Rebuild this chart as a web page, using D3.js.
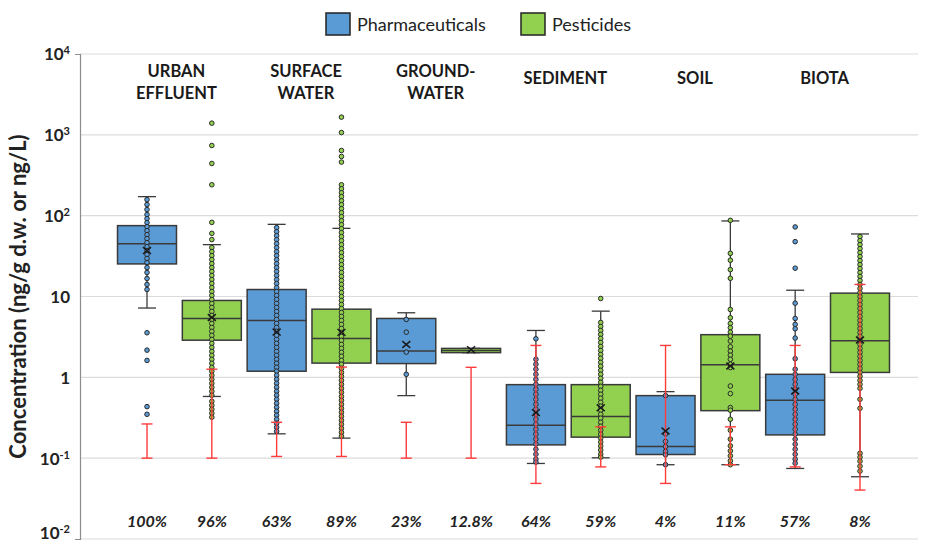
<!DOCTYPE html>
<html><head><meta charset="utf-8">
<script src="https://cdn.jsdelivr.net/npm/d3@7"></script>
<style>body{margin:0;background:#fff}svg{display:block}</style>
</head><body>
<svg id="c" width="925" height="543"></svg>
<script>
// ---------- DATA ----------
const categories = ["URBAN EFFLUENT","SURFACE WATER","GROUND-WATER","SEDIMENT","SOIL","BIOTA"];
const categoryLines = [["URBAN","EFFLUENT"],["SURFACE","WATER"],["GROUND-","WATER"],["SEDIMENT"],["SOIL"],["BIOTA"]];
const seriesNames = ["Pharmaceuticals","Pesticides"];
const yTickExponents = [4,3,2,1,0,-1,-2];

// per category: [pharmaceuticals, pesticides]
const whiskerHigh = [[172,43.8],[78.1,69.7],[6.29,2.28],[3.8,6.59],[0.665,86],[11.96,59.4]];
const q3          = [[75.3,8.93],[12.2,6.97],[5.35,2.28],[0.812,0.812],[0.594,3.37],[1.09,11]];
const median      = [[44.8,5.35],[5.06,3.03],[2.11,2.15],[0.255,0.327],[0.139,1.43],[0.52,2.84]];
const q1          = [[25.3,2.88],[1.19,1.50],[1.48,2.02],[0.146,0.182],[0.111,0.387],[0.194,1.15]];
const whiskerLow  = [[7.2,0.58],[0.2,0.177],[0.594,2.02],[0.086,0.101],[0.083,0.083],[0.0746,0.0589]];
const meanValue   = [[37,5.5],[3.63,3.6],[2.55,2.2],[0.366,0.42],[0.217,1.38],[0.678,2.9]];
const lodHigh     = [[0.265,1.26],[0.278,1.34],[0.278,1.33],[2.48,0.244],[2.48,0.244],[2.48,14.1]];
const lodLow      = [[0.1,0.1],[0.105,0.105],[0.1,0.1],[0.0487,0.078],[0.0487,0.083],[0.078,0.0403]];
const detectionFreq = [["100%","96%"],["63%","89%"],["23%","12.8%"],["64%","59%"],["4%","11%"],["57%","8%"]];

const pointsPharmaceuticals = [
  [158,137,119,103,91.8,82,73.2,65.3,58.2,52,46.4,41.4,37,33,29.5,26.3,22.8,19.8,16.7,14.1,12.2,3.56,2.17,1.62,0.434,0.349],
  [71.1,63.4,56.6,50.6,45.1,40.3,35.9,32.1,28.6,25.5,22.8,20.4,18.2,16.2,14.5,12.9,11.5,10.3,9.18,8.2,7.31,6.53,5.82,5.2,4.64,4.14,3.7,3.3,2.94,2.63,2.34,2.09,1.87,1.67,1.49,1.33,1.19,1.06,0.944,0.843,0.753,0.672,0.6,0.535,0.477,0.426,0.38,0.34,0.303,0.27,0.241,0.215],
  [5.2,3.62,2.05,1.09],
  [3.0,1.67,1.45,1.26,1.09,0.944,0.82,0.711,0.617,0.535,0.464,0.403,0.349,0.303,0.263,0.228,0.198,0.172,0.149,0.129,0.112,0.0973,0.0893],
  [0.594,0.2,0.161,0.139,0.121,0.11,0.083],
  [72.5,47.7,22.4,8.27,5.35,4.51,3.99,3.06,1.70,1.26,1.09,0.944,0.82,0.711,0.617,0.535,0.464,0.403,0.349,0.303,0.263,0.228,0.198,0.172,0.149,0.129,0.112,0.0973,0.0867]
];
const pointsPesticides = [
  [1394,738,442,241,82.6,60.4,50.6,40.3,35.9,32.1,28.6,25.5,22.8,20.4,18.2,16.2,14.5,12.9,11.5,10.3,9.18,8.2,7.31,6.53,5.82,5.2,4.64,4.14,3.7,3.3,2.94,2.63,2.34,2.09,1.87,1.67,1.49,1.33,1.19,1.06,0.944,0.843,0.753,0.672,0.6,0.506,0.451,0.403,0.36,0.321],
  [1655,1067,640,540,460,241,215,192,172,153,137,122,109,97.2,86.7,77.4,69.2,61.7,55.1,49.1,43.8,39.1,34.9,31.2,27.8,24.8,22.2,19.8,17.7,15.8,14.1,12.6,11.2,10,8.93,7.96,7.11,6.34,5.66,5.06,4.51,4.02,3.59,3.21,2.86,2.55,2.28,2.04,1.82,1.62,1.45,1.29,1.15,1.03,0.918,0.82,0.731,0.653,0.58,0.52,0.464,0.414,0.37,0.33,0.294,0.263,0.234,0.209,0.187],
  [],
  [9.44,4.77,4.26,3.8,3.4,3.03,2.7,2.41,2.15,1.92,1.72,1.53,1.37,1.22,1.09,0.972,0.867,0.774,0.691,0.617,0.551,0.491,0.439,0.392,0.349,0.312,0.278,0.248,0.222,0.198,0.177,0.158,0.141,0.126,0.112,0.103],
  [87.5,34.2,28.1,21.5,16.8,6.91,5.46,4.64,4.11,3.62,3.23,2.81,2.39,2.11,1.88,1.67,1.45,1.32,0.781,0.629,0.423,0.392,0.303,0.222,0.172,0.142,0.123,0.107,0.0927,0.083],
  [55.1,49.1,43.8,39.1,34.9,31.2,27.8,24.8,22.2,19.8,17.7,15.8,14.1,12.6,11.2,10,8.93,7.96,7.11,6.34,5.66,5.06,4.51,4.02,3.59,3.21,2.86,2.55,2.28,2.04,1.82,1.62,1.45,1.29,1.15,1.03,0.918,0.82,0.731,0.535,0.414,0.115,0.103,0.0918,0.0796,0.0692]
];

// ---------- CHART ----------
const svg = d3.select("#c");
const font = "Lato, 'Open Sans', sans-serif";
const colors = {"Pharmaceuticals":"#5b9bd5","Pesticides":"#92d050"};
const plotLeft = 80, plotRight = 918, plotTop = 54, plotBottom = 539;

const y = d3.scaleLog().domain([0.01, 10000]).range([plotBottom, plotTop]);
const x0 = d3.scaleBand().domain(categories).range([114.6, 892.4]).paddingInner(0).paddingOuter(0);
const x1 = d3.scaleBand().domain(seriesNames).range([0, x0.bandwidth()]).paddingInner(0.09).paddingOuter(0.045);

// gridlines
const tickVals = yTickExponents.map(e => Math.pow(10, e));
svg.append("g").selectAll("line").data(tickVals).join("line")
  .attr("x1", plotLeft).attr("x2", plotRight)
  .attr("y1", d => y(d)).attr("y2", d => y(d))
  .attr("stroke", "#dcdcdc").attr("stroke-width", 1.2);

// y axis
const yAxis = d3.axisLeft(y).tickValues(tickVals).tickSizeInner(0).tickSizeOuter(5).tickPadding(10).tickFormat("");
const gAxis = svg.append("g").attr("transform", `translate(${plotLeft},0)`).call(yAxis);
gAxis.select(".domain").attr("stroke", "#8c8c8c").attr("stroke-width", 1.2);
gAxis.selectAll(".tick").each(function(d) {
  const e = Math.round(Math.log10(d));
  const t = d3.select(this).append("text")
    .attr("x", -10).attr("y", e === -2 ? -6 : 0).attr("dy", "0.35em").attr("text-anchor", "end")
    .attr("font-family", font).attr("font-weight", "bold").attr("font-size", 17).attr("fill", "#222");
  if (e === 0) t.text("1");
  else if (e === 1) t.text("10");
  else {
    t.append("tspan").text("10");
    t.append("tspan").attr("dy", "-0.55em").attr("font-size", 11).text(String(e));
  }
});

// y title
svg.append("text")
  .attr("transform", `translate(26,${(plotTop + plotBottom) / 2}) rotate(-90)`)
  .attr("text-anchor", "middle")
  .attr("font-family", font).attr("font-weight", "bold").attr("font-size", 22).attr("fill", "#222")
  .text("Concentration (ng/g d.w. or ng/L)");

// build box records
const boxes = [];
categories.forEach((c, ci) => {
  seriesNames.forEach((s, si) => {
    boxes.push({
      cat: c, ci, series: s,
      cx: x0(c) + x1(s) + x1.bandwidth() / 2,
      w: x1.bandwidth(),
      wh: whiskerHigh[ci][si], q3: q3[ci][si], med: median[ci][si], q1: q1[ci][si], wl: whiskerLow[ci][si],
      mean: meanValue[ci][si], lh: lodHigh[ci][si], ll: lodLow[ci][si], freq: detectionFreq[ci][si],
      pts: (si === 0 ? pointsPharmaceuticals : pointsPesticides)[ci]
    });
  });
});

const stroke = "#3a3a3a";
const g = svg.append("g");
boxes.forEach(b => {
  const gb = g.append("g");
  gb.append("line").attr("x1", b.cx).attr("x2", b.cx).attr("y1", y(b.wh)).attr("y2", y(b.wl)).attr("stroke", stroke).attr("stroke-width", 1.3);
  [b.wh, b.wl].forEach(v => gb.append("line").attr("x1", b.cx - 9).attr("x2", b.cx + 9).attr("y1", y(v)).attr("y2", y(v)).attr("stroke", stroke).attr("stroke-width", 1.3));
  gb.append("rect").attr("x", b.cx - b.w / 2).attr("width", b.w)
    .attr("y", y(b.q3)).attr("height", Math.max(1, y(b.q1) - y(b.q3)))
    .attr("fill", colors[b.series]).attr("stroke", stroke).attr("stroke-width", 1.5);
  gb.append("line").attr("x1", b.cx - b.w / 2).attr("x2", b.cx + b.w / 2).attr("y1", y(b.med)).attr("y2", y(b.med)).attr("stroke", stroke).attr("stroke-width", 1.5);
  gb.selectAll("circle").data(b.pts).join("circle")
    .attr("cx", b.cx).attr("cy", d => y(d)).attr("r", 2.3)
    .attr("fill", colors[b.series]).attr("stroke", "#2a2a2a").attr("stroke-width", 1);
  // LOD range (red)
  gb.append("line").attr("x1", b.cx).attr("x2", b.cx).attr("y1", y(b.lh)).attr("y2", y(b.ll)).attr("stroke", "#ff3b3b").attr("stroke-width", 1.4);
  [b.lh, b.ll].forEach(v => gb.append("line").attr("x1", b.cx - 5.5).attr("x2", b.cx + 5.5).attr("y1", y(v)).attr("y2", y(v)).attr("stroke", "#ff3b3b").attr("stroke-width", 1.4));
  // mean X
  const my = y(b.mean), s = 4;
  gb.append("path").attr("d", `M${b.cx - s},${my - s * 0.85}L${b.cx + s},${my + s * 0.85}M${b.cx - s},${my + s * 0.85}L${b.cx + s},${my - s * 0.85}`)
    .attr("stroke", "#1a1a1a").attr("stroke-width", 1.5).attr("fill", "none");
  // detection frequency
  svg.append("text").attr("x", b.cx).attr("y", 527).attr("text-anchor", "middle")
    .attr("font-family", font).attr("font-weight", "bold").attr("font-style", "italic").attr("font-size", 16).attr("fill", "#222")
    .text(b.freq);
});

// category labels
categories.forEach((c, ci) => {
  const lines = categoryLines[ci];
  const cx = x0(c) + x0.bandwidth() / 2 - 3;
  const t = svg.append("text").attr("text-anchor", "middle")
    .attr("font-family", font).attr("font-weight", "bold").attr("font-size", 16.5).attr("fill", "#1a1a1a");
  if (lines.length === 2) {
    lines.forEach((l, i) => t.append("tspan").attr("x", cx).attr("y", 77 + i * 22).text(l));
  } else {
    t.append("tspan").attr("x", cx).attr("y", 84).text(lines[0]);
  }
});

// legend
const legendX = [326, 521];
seriesNames.forEach((s, i) => {
  svg.append("rect").attr("x", legendX[i]).attr("y", 13).attr("width", 24).attr("height", 22)
    .attr("fill", colors[s]).attr("stroke", "#222").attr("stroke-width", 1.5);
  svg.append("text").attr("x", legendX[i] + 31).attr("y", 25).attr("dy", "0.35em")
    .attr("font-family", font).attr("font-size", 18).attr("fill", "#222").text(s);
});
</script>
</body></html>
